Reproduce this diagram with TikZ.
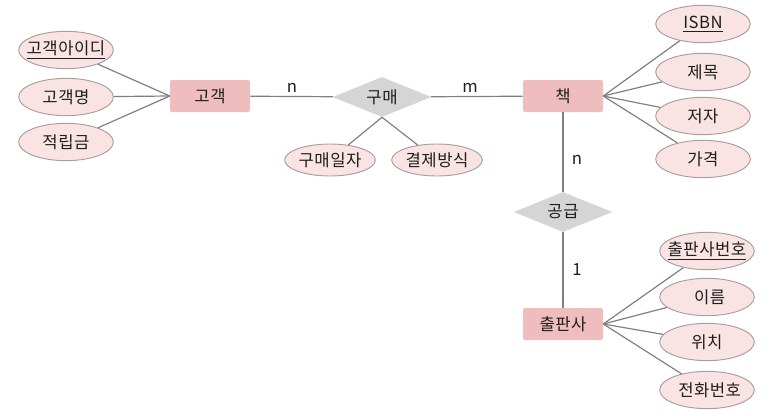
\documentclass[tikz,border=0pt]{standalone}
\usepackage{fontspec}
\setmainfont[LetterSpace=3]{Noto Sans CJK KR}
\usepackage{tikz}
\usetikzlibrary{shapes.geometric,positioning}
\definecolor{entfill}{RGB}{239,189,189}
\definecolor{attfill}{RGB}{249,227,227}
\definecolor{attline}{RGB}{168,158,158}
\definecolor{relfill}{RGB}{213,213,213}
\definecolor{linkgray}{RGB}{128,128,128}
\definecolor{txt}{RGB}{30,30,30}
\newcommand{\atxt}[1]{\makebox[20pt]{#1}}

\begin{document}
\begin{tikzpicture}[x=0.75pt,y=-0.75pt,
    font=\fontsize{12.5}{14}\selectfont, text=txt,
    entity/.style={rectangle, rounded corners=1.5pt, fill=entfill,
        minimum width=60pt, minimum height=24pt, inner sep=0pt},
    attr/.style={ellipse, draw=attline, line width=0.7pt, fill=attfill,
        minimum width=71pt, minimum height=28pt, inner sep=0pt},
    rel/.style={diamond, fill=relfill, aspect=2.5,
        minimum width=74pt, minimum height=30pt, inner sep=0pt},
    link/.style={draw=linkgray, line width=0.9pt},
    card/.style={inner sep=1pt}]
    \useasboundingbox (0,0) rectangle (769,415);
    % entities and relationships
    \node[entity] (cust) at (210,96) {고객};
    \node[rel] (buy) at (382,97) {\raisebox{-3pt}{구매}};
    \node[entity] (book) at (563,96) {책};
    \node[rel] (supply) at (563,212) {공급};
    \node[entity] (pub) at (563,324) {출판사};
    % attributes of 고객
    \node[attr] (custid) at (66,50) {\atxt{\underline{고객아이디}}};
    \node[attr] (custname) at (66,97) {\atxt{고객명}};
    \node[attr] (points) at (66,142) {\atxt{적립금}};
    % attributes of 구매
    \node[attr, minimum width=68pt, minimum height=24pt] (buydate) at (330,160) {\atxt{구매일자}};
    \node[attr, minimum width=68pt, minimum height=24pt] (paymode) at (437,160) {\atxt{결제방식}};
    % attributes of 책
    \node[attr] (isbn) at (703,24) {\atxt{\underline{ISBN}}};
    \node[attr] (title) at (703,72) {\atxt{제목}};
    \node[attr] (author) at (703,116) {\atxt{저자}};
    \node[attr] (price) at (703,159) {\atxt{가격}};
    % attributes of 출판사
    \node[attr] (pubno) at (707,251) {\atxt{\underline{출판사번호}}};
    \node[attr] (pubname) at (707,297) {\atxt{\hspace{4pt}이름}};
    \node[attr] (place) at (707,342) {\atxt{위치}};
    \node[attr] (phone) at (707,390) {\atxt{\hspace{4pt}전화번호}};
    % cardinalities
    \node[card] (c1) at (292,88) {n};
    \node[card] (c2) at (470,88) {m};
    \node[card] (c3) at (577,160) {n};
    \node[card] (c4) at (577,270) {1};
    % connectors
    \draw[link] (cust) -- (buy) -- (book);
    \draw[link] (book) -- (supply) -- (pub);
    \draw[link] (cust.west) -- (custid);
    \draw[link] (cust.west) -- (custname);
    \draw[link] (cust.west) -- (points);
    \draw[link] (buy.south) -- (buydate);
    \draw[link] (buy.south) -- (paymode);
    \foreach \a in {isbn,title,author,price}
        \draw[link] (book.east) -- (\a);
    \foreach \a in {pubno,pubname,place,phone}
        \draw[link] (pub.east) -- (\a);
\end{tikzpicture}
\end{document}
